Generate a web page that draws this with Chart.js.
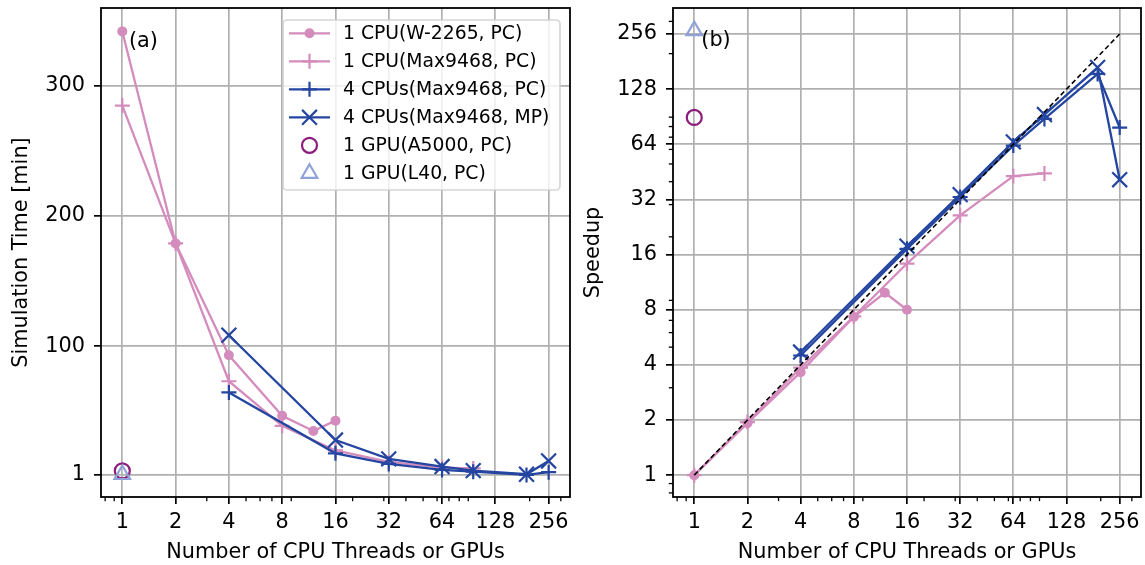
<!DOCTYPE html>
<html>
<head>
<meta charset="utf-8">
<script src="https://cdn.jsdelivr.net/npm/chart.js@4.4.0/dist/chart.umd.min.js"></script>
<style>
  html, body { margin: 0; padding: 0; background: #fff; }
  #wrap { position: relative; width: 1145px; height: 565px; }
  #left { position: absolute; left: 0; top: 0; width: 575px; height: 565px; }
  #right { position: absolute; left: 575px; top: 0; width: 570px; height: 565px; }
</style>
</head>
<body>
<div id="wrap">
  <canvas id="left" width="575" height="565"></canvas>
  <canvas id="right" width="570" height="565"></canvas>
</div>
<script>
// axis ticks
const threadTicks = [1, 2, 4, 8, 16, 32, 64, 128, 256];
const timeTicks = [1, 100, 200, 300];
const speedupTicks = [1, 2, 4, 8, 16, 32, 64, 128, 256];
const minorLogTicks = [0.8, 0.9, 3, 5, 6, 7, 9, 20, 30, 40, 50, 60, 70, 80, 90, 200, 300];

// thread counts
const w2265Threads = [1, 2, 4, 8, 12, 16];
const max1Threads = [1, 2, 4, 8, 16, 32, 64, 96];
const max4Threads = [4, 16, 32, 64, 96, 192, 256];
const gpuThreads = [1];
const idealThreads = [1, 256];

// (a) simulation time [min]
const w2265Time = [342, 179, 93, 46.5, 34.8, 42.7];
const max1Time = [285, 179, 73, 38.7, 19.8, 11, 6.6, 6.0];
const max4PcTime = [64.4, 17.6, 9.4, 4.8, 3.5, 1.0, 3.1];
const max4MpTime = [108.4, 27.8, 13.3, 7.4, 4.3, 1.5, 11.7];
const a5000Time = [4.1];
const l40Time = [1.3];

// (b) speedup
const w2265Speedup = [1, 1.92, 3.65, 7.3, 9.9, 8.0];
const max1Speedup = [1, 1.95, 3.86, 7.35, 14.3, 26.2, 42.9, 44.4];
const max4PcSpeedup = [4.5, 17.2, 33, 63, 88, 155, 79];
const max4MpSpeedup = [4.7, 17.8, 34, 66, 93, 168, 41];
const a5000Speedup = [89.7];
const l40Speedup = [267];
const idealSpeedup = [1, 256];

const PINK = '#d48cbd';
const BLUE = '#2445a0';
const PURPLE = '#8b1c7c';
const LIGHT = '#8fa2d8';
const FONT = 'DejaVu Sans';

Chart.defaults.font.family = FONT;
Chart.defaults.color = '#000';

const styles = {
  w2265: { label: '1 CPU(W-2265, PC)', color: PINK, pointStyle: 'circle', pointRadius: 5, fillPoint: true, pointBorderWidth: 0 },
  max1: { label: '1 CPU(Max9468, PC)', color: PINK, pointStyle: 'cross', pointRadius: 7.5, pointBorderWidth: 2.2 },
  max4Pc: { label: '4 CPUs(Max9468, PC)', color: BLUE, pointStyle: 'cross', pointRadius: 7.5, pointBorderWidth: 2.2 },
  max4Mp: { label: '4 CPUs(Max9468, MP)', color: BLUE, pointStyle: 'crossRot', pointRadius: 10.5, pointBorderWidth: 2.2 },
  a5000: { label: '1 GPU(A5000, PC)', color: PURPLE, pointStyle: 'circle', pointRadius: 7.5, pointBorderWidth: 2.2, noLine: true },
  l40: { label: '1 GPU(L40, PC)', color: LIGHT, pointStyle: 'triangle', pointRadius: 9, pointBorderWidth: 2.2, noLine: true }
};

function series(st, xs, ys, idx) {
  return {
    label: st.label,
    data: xs.map((x, i) => ({ x: x, y: ys[i] })),
    borderColor: st.color,
    backgroundColor: st.color,
    borderWidth: 2.3,
    showLine: !st.noLine,
    pointStyle: st.pointStyle,
    pointRadius: st.pointRadius,
    pointHoverRadius: st.pointRadius,
    pointBorderWidth: st.pointBorderWidth,
    pointBorderColor: st.color,
    pointBackgroundColor: st.fillPoint ? st.color : 'rgba(0,0,0,0)',
    fill: false,
    tension: 0,
    order: 20 - idx,
    _st: st
  };
}

function drawMarker(ctx, st, x, y) {
  const r = st.pointRadius;
  ctx.beginPath();
  if (st.pointStyle === 'circle') {
    ctx.arc(x, y, r, 0, Math.PI * 2);
  } else if (st.pointStyle === 'cross') {
    ctx.moveTo(x - r, y); ctx.lineTo(x + r, y);
    ctx.moveTo(x, y - r); ctx.lineTo(x, y + r);
  } else if (st.pointStyle === 'crossRot') {
    const d = r * Math.SQRT1_2;
    ctx.moveTo(x - d, y - d); ctx.lineTo(x + d, y + d);
    ctx.moveTo(x - d, y + d); ctx.lineTo(x + d, y - d);
  } else if (st.pointStyle === 'triangle') {
    for (let k = 0; k < 3; k++) {
      const a = k * 2 * Math.PI / 3;
      ctx.lineTo(x + Math.sin(a) * r, y - Math.cos(a) * r);
    }
    ctx.closePath();
  }
  if (st.fillPoint) { ctx.fillStyle = st.color; ctx.fill(); }
  if (st.pointBorderWidth > 0) {
    ctx.lineWidth = st.pointBorderWidth;
    ctx.strokeStyle = st.color;
    ctx.stroke();
  }
}

function decor(tag, tagDx, tagDy, withLegend) {
  return {
    id: 'decor',
    afterDatasetsDraw(chart) {
      const ctx = chart.ctx, a = chart.chartArea;
      ctx.save();
      // minor ticks on log axes
      ctx.strokeStyle = '#000';
      ctx.lineWidth = 1.3;
      const xs = chart.scales.x;
      minorLogTicks.forEach(v => {
        if (v < xs.min || v > xs.max) return;
        const px = xs.getPixelForValue(v);
        ctx.beginPath(); ctx.moveTo(px, a.bottom); ctx.lineTo(px, a.bottom + 4.2); ctx.stroke();
      });
      const ys = chart.scales.y;
      if (ys.type === 'logarithmic') {
        minorLogTicks.forEach(v => {
          if (v < ys.min || v > ys.max) return;
          const py = ys.getPixelForValue(v);
          ctx.beginPath(); ctx.moveTo(a.left, py); ctx.lineTo(a.left - 4.2, py); ctx.stroke();
        });
      }
      // frame
      ctx.lineWidth = 1.8;
      ctx.strokeRect(a.left, a.top, a.right - a.left, a.bottom - a.top);
      // panel tag
      ctx.fillStyle = '#000';
      ctx.font = '20.8px "' + FONT + '"';
      ctx.textBaseline = 'alphabetic';
      ctx.textAlign = 'left';
      ctx.fillText(tag, a.left + tagDx, a.top + tagDy);
      ctx.restore();
    },
    afterDraw(chart) {
      if (!withLegend) return;
      const ctx = chart.ctx, a = chart.chartArea;
      const boxW = 277, boxH = 170;
      const boxL = a.right - 10 - boxW, boxT = a.top + 12;
      ctx.save();
      ctx.beginPath();
      ctx.roundRect(boxL, boxT, boxW, boxH, 4);
      ctx.fillStyle = 'rgba(255,255,255,0.8)';
      ctx.fill();
      ctx.strokeStyle = 'rgba(204,204,204,0.8)';
      ctx.lineWidth = 1.7;
      ctx.stroke();
      ctx.font = '18.75px "' + FONT + '"';
      ctx.textBaseline = 'alphabetic';
      ctx.textAlign = 'left';
      chart.data.datasets.forEach((ds, i) => {
        const st = ds._st;
        if (!st) return;
        const cy = boxT + 13.3 + i * 28;
        if (!st.noLine) {
          ctx.beginPath();
          ctx.moveTo(boxL + 6, cy); ctx.lineTo(boxL + 47, cy);
          ctx.strokeStyle = st.color; ctx.lineWidth = 2.3; ctx.stroke();
        }
        drawMarker(ctx, st, boxL + 26.5, cy);
        ctx.fillStyle = '#000';
        ctx.fillText(st.label, boxL + 60, cy + 6);
      });
      ctx.restore();
    }
  };
}

function xAxis() {
  return {
    type: 'logarithmic',
    bounds: 'data',
    min: 0.758,
    max: 338,
    afterBuildTicks: s => { s.ticks = threadTicks.map(v => ({ value: v })); },
    afterFit: s => { s.height = 68; s.paddingLeft = 0; s.paddingRight = 0; },
    ticks: { autoSkip: false, maxRotation: 0, padding: 6, font: { size: 20.8 }, callback: v => String(v) },
    grid: { color: '#b0b0b0', lineWidth: 1.7, tickColor: '#000', tickLength: 7, tickWidth: 1.7 },
    border: { display: false },
    title: { display: true, text: 'Number of CPU Threads or GPUs', font: { size: 20.8 }, padding: { top: 0, bottom: 0 } }
  };
}

function yAxis(width, opts) {
  return Object.assign({
    bounds: 'data',
    afterFit: s => { s.width = width; s.paddingTop = 0; s.paddingBottom = 0; },
    ticks: { autoSkip: false, padding: 9, font: { size: 20.8 }, callback: v => String(v) },
    grid: { color: '#b0b0b0', lineWidth: 1.7, tickColor: '#000', tickLength: 7, tickWidth: 1.7 },
    border: { display: false }
  }, opts);
}

const common = {
  responsive: false,
  animation: false,
  events: [],
  plugins: { legend: { display: false }, tooltip: { enabled: false } }
};

new Chart(document.getElementById('left'), {
  type: 'line',
  data: {
    datasets: [
      series(styles.w2265, w2265Threads, w2265Time, 0),
      series(styles.max1, max1Threads, max1Time, 1),
      series(styles.max4Pc, max4Threads, max4PcTime, 2),
      series(styles.max4Mp, max4Threads, max4MpTime, 3),
      series(styles.a5000, gpuThreads, a5000Time, 4),
      series(styles.l40, gpuThreads, l40Time, 5)
    ]
  },
  options: Object.assign({}, common, {
    layout: { autoPadding: false, padding: { left: 0, top: 8, right: 5, bottom: 0 } },
    scales: {
      x: xAxis(),
      y: yAxis(101, {
        type: 'linear',
        min: -16,
        max: 360,
        afterBuildTicks: s => { s.ticks = timeTicks.map(v => ({ value: v })); },
        title: { display: true, text: 'Simulation Time [min]', font: { size: 20.8 }, padding: { top: 9.5, bottom: 0 } }
      })
    }
  }),
  plugins: [decor('(a)', 28, 39.3, true)]
});

new Chart(document.getElementById('right'), {
  type: 'line',
  data: {
    datasets: [
      series(styles.w2265, w2265Threads, w2265Speedup, 0),
      series(styles.max1, max1Threads, max1Speedup, 1),
      series(styles.max4Pc, max4Threads, max4PcSpeedup, 2),
      series(styles.max4Mp, max4Threads, max4MpSpeedup, 3),
      series(styles.a5000, gpuThreads, a5000Speedup, 4),
      series(styles.l40, gpuThreads, l40Speedup, 5),
      {
        label: 'ideal',
        data: idealThreads.map((x, i) => ({ x: x, y: idealSpeedup[i] })),
        borderColor: '#000',
        borderWidth: 1.6,
        borderDash: [5, 3],
        pointRadius: 0,
        fill: false,
        order: 0
      }
    ]
  },
  options: Object.assign({}, common, {
    layout: { autoPadding: false, padding: { left: 0, top: 8, right: 4, bottom: 0 } },
    scales: {
      x: xAxis(),
      y: yAxis(98, {
        type: 'logarithmic',
        min: 0.76,
        max: 355,
        afterBuildTicks: s => { s.ticks = speedupTicks.map(v => ({ value: v })); },
        title: { display: true, text: 'Speedup', font: { size: 20.8 }, padding: { top: 6, bottom: 0 } }
      })
    }
  }),
  plugins: [decor('(b)', 28.3, 37.6, false)]
});
</script>
</body>
</html>
